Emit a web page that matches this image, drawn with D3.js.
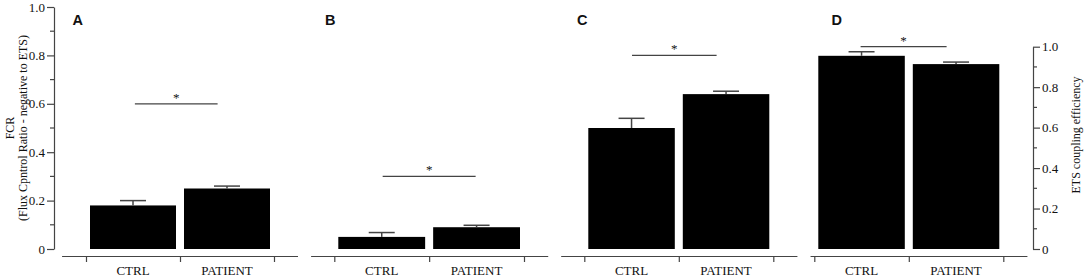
<!DOCTYPE html>
<html>
<head>
<meta charset="utf-8">
<script src="https://cdn.jsdelivr.net/npm/d3@7"></script>
<style>
  body { margin: 0; background: #fff; }
  svg { display: block; }
  text { font-family: "Liberation Serif", "Times New Roman", serif; fill: #111; }
</style>
</head>
<body>
<div id="chart"></div>
<script>
// categories and panel values
var groups = ["CTRL", "PATIENT"];
var panelLetters = ["A", "B", "C", "D"];
var meanA = [0.18, 0.25], errA = [0.02, 0.01];
var meanB = [0.05, 0.09], errB = [0.018, 0.008];
var meanC = [0.50, 0.64], errC = [0.04, 0.012];
var meanD = [0.955, 0.914], errD = [0.02, 0.01];
// significance bar: level, start/end in category units
var sigA = [0.6, 0.52, 1.40];
var sigB = [0.3, 0.51, 1.49];
var sigC = [0.8, 0.505, 1.40];
var sigD = [1.0, 0.49, 1.40];
var yTicks = [0, 0.2, 0.4, 0.6, 0.8, 1.0];
var yMinor = [0.1, 0.3, 0.5, 0.7, 0.9];

var W = 1084, H = 278;
var svg = d3.select("#chart").append("svg")
  .attr("width", W)
  .attr("height", H);

var lineCol = "#444";
var y0 = 249;   // zero of the value axes
var axisY = 256; // category axis line

// panel geometry (tick positions along x, top of value axis)
var panels = [
  { letter: panelLetters[0], mean: meanA, err: errA, sig: sigA, left: 86,    right: 274,    top: 7,    lx: 72.5,  padL: 0.26 },
  { letter: panelLetters[1], mean: meanB, err: errB, sig: sigB, left: 334.3, right: 524,    top: 7,    lx: 325,   padL: 0.25 },
  { letter: panelLetters[2], mean: meanC, err: errC, sig: sigC, left: 584.3, right: 773.3,  top: 7,    lx: 577,   padL: 0.25 },
  { letter: panelLetters[3], mean: meanD, err: errD, sig: sigD, left: 814.3, right: 1003.3, top: 46.7, lx: 831.5, padL: 0.045 }
];

panels.forEach(function (p, i) {
  var g = svg.append("g");
  var data = groups.map(function (c, j) { return { cat: c, v: p.mean[j], e: p.err[j] }; });

  // value scale
  var y = d3.scaleLinear().domain([0, 1]).range([y0, p.top]);

  // category band and boundary scale
  var x = d3.scaleBand().domain(groups).range([p.left, p.right]).padding(0);
  var xu = d3.scaleLinear().domain([0, 2]).range([p.left, p.right]);

  // x axis with ticks at the group boundaries
  var xAxisScale = d3.scaleLinear()
    .domain([-p.padL, 2.25])
    .range([xu(-p.padL), xu(2.25)]);
  var xa = g.append("g")
    .attr("transform", "translate(0," + axisY + ")")
    .call(d3.axisBottom(xAxisScale).tickValues([0, 1, 2]).tickSize(6).tickSizeOuter(0).tickFormat(""));
  xa.selectAll("path, line").attr("stroke", lineCol).attr("stroke-width", 1.2);

  // category labels
  g.selectAll(".cat")
    .data(groups)
    .enter().append("text")
    .attr("x", function (d) { return x(d) + x.bandwidth() / 2; })
    .attr("y", 275)
    .attr("text-anchor", "middle")
    .style("font-size", "13px")
    .text(function (d) { return d; });

  // bars
  g.selectAll(".bar")
    .data(data)
    .enter().append("rect")
    .attr("x", function (d) { return x(d.cat) + 4; })
    .attr("width", x.bandwidth() - 8)
    .attr("y", function (d) { return y(d.v); })
    .attr("height", function (d) { return y0 - y(d.v); })
    .attr("fill", "#000");

  // error bars (upper only)
  var eb = g.selectAll(".err").data(data).enter().append("g");
  eb.append("line")
    .attr("x1", function (d) { return x(d.cat) + x.bandwidth() / 2; })
    .attr("x2", function (d) { return x(d.cat) + x.bandwidth() / 2; })
    .attr("y1", function (d) { return y(d.v); })
    .attr("y2", function (d) { return y(d.v + d.e); })
    .attr("stroke", lineCol).attr("stroke-width", 1.5);
  eb.append("line")
    .attr("x1", function (d) { return x(d.cat) + x.bandwidth() / 2 - 13; })
    .attr("x2", function (d) { return x(d.cat) + x.bandwidth() / 2 + 13; })
    .attr("y1", function (d) { return y(d.v + d.e); })
    .attr("y2", function (d) { return y(d.v + d.e); })
    .attr("stroke", lineCol).attr("stroke-width", 1.5);

  // significance line + asterisk
  g.append("line")
    .attr("x1", xu(p.sig[1]))
    .attr("x2", xu(p.sig[2]))
    .attr("y1", y(p.sig[0]))
    .attr("y2", y(p.sig[0]))
    .attr("stroke", lineCol)
    .attr("stroke-width", 1.3);
  g.append("text")
    .attr("x", (xu(p.sig[1]) + xu(p.sig[2])) / 2)
    .attr("y", y(p.sig[0]) - 2)
    .attr("text-anchor", "middle")
    .attr("fill", "#222")
    .style("font-size", "13px")
    .text("*");

  // panel letter
  g.append("text")
    .attr("x", p.lx)
    .attr("y", 25)
    .style("font-family", "'Liberation Sans', Arial, sans-serif")
    .style("font-weight", "bold")
    .style("font-size", "14.5px")
    .text(p.letter);

  // value axes: left on A, right on D
  if (i === 0 || i === 3) {
    var ax = i === 0 ? d3.axisLeft(y) : d3.axisRight(y);
    var ay = g.append("g")
      .attr("transform", "translate(" + (i === 0 ? 54 : 1033) + ",0)")
      .call(ax.tickValues(yTicks).tickSize(7).tickSizeOuter(0).tickPadding(2)
        .tickFormat(function (d) { return d === 0 ? "0" : d3.format(".1f")(d); }))
      .attr("font-family", null)
      .attr("font-size", null);
    ay.selectAll("path, line").attr("stroke", lineCol).attr("stroke-width", 1.2);
    ay.selectAll("text")
      .attr("fill", "#111")
      .style("font-size", "13px");
    // minor ticks
    ay.selectAll(".minor")
      .data(yMinor)
      .enter().append("line")
      .attr("x1", 0)
      .attr("x2", i === 0 ? -4 : 4)
      .attr("y1", function (d) { return y(d); })
      .attr("y2", function (d) { return y(d); })
      .attr("stroke", lineCol).attr("stroke-width", 1.2);
  }
});

// axis titles
var yMidA = (y0 + 7) / 2;
svg.append("text")
  .attr("transform", "translate(14," + yMidA + ") rotate(-90)")
  .attr("text-anchor", "middle")
  .style("font-size", "12px")
  .text("FCR");
svg.append("text")
  .attr("transform", "translate(27," + yMidA + ") rotate(-90)")
  .attr("text-anchor", "middle")
  .style("font-size", "12px")
  .text("(Flux Cpntrol Ratio - negative to ETS)");
svg.append("text")
  .attr("transform", "translate(1080,135) rotate(-90)")
  .attr("text-anchor", "middle")
  .style("font-size", "12px")
  .text("ETS coupling efficiency");
</script>
</body>
</html>
